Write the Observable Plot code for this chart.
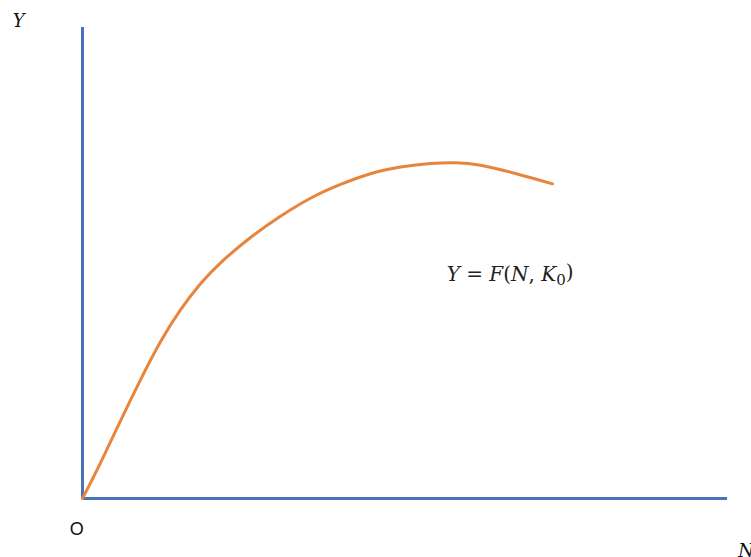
<!DOCTYPE html>
<html>
<head>
<meta charset="utf-8">
<script src="https://cdn.jsdelivr.net/npm/d3@7"></script>
<script src="https://cdn.jsdelivr.net/npm/@observablehq/plot@0.6"></script>
<style>
  html, body { margin: 0; padding: 0; background: #ffffff; }
  #chart svg { display: block; }
</style>
</head>
<body>
<div id="chart"></div>
<script>
// Short-run production function: output Y against labour N, capital fixed at K0
const laborN  = [0, 2.79, 5.89, 8.99, 12.09, 15.19, 18.29, 21.40, 26.05, 30.70, 35.35, 40.00, 44.65, 49.30, 53.95, 57.83, 61.71, 67.13, 72.87];
const outputY = [0, 7.58, 16.50, 25.20, 33.27, 40.04, 45.58, 50.04, 55.41, 59.92, 63.74, 66.67, 68.96, 70.36, 71.13, 71.30, 70.77, 69.01, 66.81];

// Axis extents
const axisMaxN = 100;
const axisMaxY = 100;

// Annotation labels
const labelText = ["Y", "N", "O"];
const labelN    = [-9.9, 102.9, -0.9];
const labelY    = [101.3, -11.2, -6.6];

const equationText = "Y = F(N, K₀)";
const equationN = 66.3;
const equationY = 47.6;

const curve = laborN.map((n, i) => ({N: n, Y: outputY[i]}));
const labels = labelText.map((t, i) => ({t, N: labelN[i], Y: labelY[i]}));

const blue = "#4a72b8";
const orange = "#e8853d";
const serif = "'DejaVu Serif', 'Liberation Serif', serif";

const chart = Plot.plot({
  width: 751,
  height: 557,
  marginLeft: 82,
  marginRight: 24,
  marginTop: 27,
  marginBottom: 59,
  x: {domain: [0, axisMaxN], axis: null},
  y: {domain: [0, axisMaxY], axis: null},
  style: {background: "#ffffff", overflow: "visible"},
  marks: [
    Plot.ruleX([0], {y1: 0, y2: axisMaxY, stroke: blue, strokeWidth: 3}),
    Plot.ruleY([0], {x1: 0, x2: axisMaxN, stroke: blue, strokeWidth: 3}),
    Plot.line(curve, {x: "N", y: "Y", curve: "natural", stroke: orange, strokeWidth: 3}),
    Plot.text(labels.filter(d => d.t !== "O"), {
      x: "N", y: "Y", text: "t", fontSize: 18, fontStyle: "italic",
      fontFamily: serif, fill: "#111"
    }),
    Plot.text(labels.filter(d => d.t === "O"), {
      x: "N", y: "Y", text: "t", fontSize: 18,
      fontFamily: "'Liberation Sans', 'DejaVu Sans', sans-serif", fill: "#111"
    }),
    Plot.text([equationText], {
      x: () => equationN, y: () => equationY, text: d => d, fontSize: 20,
      fontFamily: serif, fill: "#222"
    })
  ]
});

// Typeset the equation: italic variables, upright operators, lowered subscript
d3.select(chart).selectAll("text")
  .filter(function () { return this.textContent === equationText; })
  .each(function () {
    const t = d3.select(this);
    t.text(null);
    const parts = [
      ["Y", true], [" = ", false], ["F", true], ["(", false], ["N", true],
      [", ", false], ["K", true]
    ];
    for (const [s, it] of parts) {
      t.append("tspan").attr("font-style", it ? "italic" : "normal").text(s);
    }
    t.append("tspan").attr("font-size", 15).attr("dy", "0.3em").text("0");
    t.append("tspan").attr("dy", "-0.3em").text(")");
  });

document.getElementById("chart").appendChild(chart);
</script>
</body>
</html>
